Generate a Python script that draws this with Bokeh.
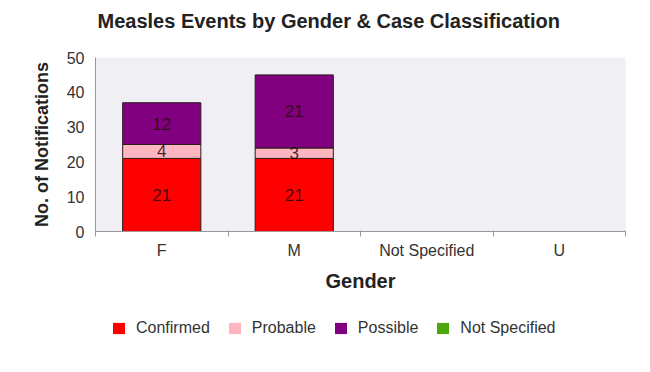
from bokeh.plotting import figure
from bokeh.models import (ColumnDataSource, Range1d, FixedTicker, Legend, LegendItem,
                          Plot, Label, VBar)
from bokeh.layouts import column
from bokeh.embed import file_html
from bokeh.resources import INLINE
from bokeh.core.properties import value

title_text = "Measles Events by Gender & Case Classification"
genders = ["F", "M", "Not Specified", "U"]
classes = ["Confirmed", "Probable", "Possible", "Not Specified"]
confirmed = [21, 21, 0, 0]
probable = [4, 3, 0, 0]
possible = [12, 21, 0, 0]
not_specified = [0, 0, 0, 0]
colors = ["#ff0000", "#ffb6c1", "#800080", "#4ca60c"]
y_ticks = [0, 10, 20, 30, 40, 50]

FONT = "Liberation Sans"
xs = [i + 0.5 for i in range(len(genders))]
keys = ["confirmed", "probable", "possible", "not_specified"]
series = [confirmed, probable, possible, not_specified]
src = ColumnDataSource(dict(x=xs, confirmed=confirmed, probable=probable,
                            possible=possible, not_specified=not_specified))

# ---- title strip ----
ts = Plot(width=634, height=45, x_range=Range1d(0, 530), y_range=Range1d(0, 45),
          min_border_left=95, min_border_right=9, min_border_top=0, min_border_bottom=0,
          title=None, toolbar_location=None, outline_line_color=None, output_backend="svg")
ts.add_layout(Label(x=2, y=25, text=title_text, text_font=FONT, text_font_size="20px",
                    text_font_style="bold", text_color="#222222", text_baseline="middle"))

# ---- main chart ----
p = figure(width=634, height=255, output_backend="svg", toolbar_location=None,
           title_location=None,
           x_range=Range1d(0, len(genders)), y_range=Range1d(0, 50),
           min_border_left=95, min_border_right=9, min_border_top=12, min_border_bottom=69)

renderers = p.vbar_stack(keys, x="x", width=0.59, color=colors, line_color="#2a1a1a",
                         line_width=1, source=src)
renderers[-1].glyph.line_alpha = 0

lx, ly, lt = [], [], []
for i in range(len(genders)):
    cum = 0
    for s in series:
        v = s[i]
        if v > 0:
            lx.append(xs[i]); ly.append(cum + v / 2); lt.append(str(v))
        cum += v
p.text(x=lx, y=ly, text=lt, text_align="center", text_baseline="middle",
       text_font=value(FONT), text_font_size="17px", text_color="#2a0a0a", text_alpha=0.85)

p.background_fill_color = "#f0f0f4"
p.border_fill_color = "white"
p.outline_line_color = None
p.xgrid.grid_line_color = None
p.ygrid.grid_line_color = None

p.xaxis.ticker = FixedTicker(ticks=xs, minor_ticks=list(range(len(genders) + 1)))
p.xaxis.major_label_overrides = {x: g for x, g in zip(xs, genders)}
p.xaxis.major_tick_out = 4
p.xaxis.minor_tick_line_color = "#999999"
p.xaxis.minor_tick_out = 5
p.xaxis.minor_tick_in = 1
p.xaxis.axis_label = "Gender"
p.xaxis.axis_label_text_font = FONT
p.xaxis.axis_label_text_font_size = "20px"
p.xaxis.axis_label_text_font_style = "bold"
p.xaxis.axis_label_text_color = "#222222"
p.xaxis.axis_label_standoff = 8

p.yaxis.ticker = FixedTicker(ticks=y_ticks, minor_ticks=[])
p.yaxis.major_tick_out = 6
p.yaxis.major_tick_in = 0
p.yaxis.axis_label = "No. of Notifications"
p.yaxis.axis_label_text_font = FONT
p.yaxis.axis_label_text_font_size = "18px"
p.yaxis.axis_label_text_font_style = "bold"
p.yaxis.axis_label_text_color = "#222222"
p.yaxis.axis_label_standoff = 12

for ax in (p.xaxis, p.yaxis):
    ax.axis_line_color = "#999999"
    ax.major_tick_line_color = "#999999" if ax is p.yaxis else None
    ax.major_label_text_font = FONT
    ax.major_label_text_font_size = "16px"
    ax.major_label_text_color = "#333333"

# ---- legend strip (swatch renderers hold one zero-size bar, nothing visible) ----
lg = Plot(width=634, height=56, x_range=Range1d(0, 1), y_range=Range1d(0, 1),
          min_border_left=95, min_border_right=9, min_border_top=0, min_border_bottom=0,
          title=None, toolbar_location=None, outline_line_color=None, output_backend="svg")
swatches = []
for c in colors:
    sw_src = ColumnDataSource(dict(x=[0.5], top=[0.0]))
    swatches.append(lg.add_glyph(sw_src, VBar(x="x", top="top", bottom=0, width=0,
                                              fill_color=c, line_color=None)))
legend = Legend(items=[LegendItem(label=c, renderers=[r]) for c, r in zip(classes, swatches)],
                orientation="horizontal", location=(16, 19))
legend.label_text_font = FONT
legend.label_text_font_size = "16px"
legend.label_text_color = "#333333"
legend.label_height = 16
legend.glyph_width = 15
legend.glyph_height = 14
legend.spacing = 17
legend.label_standoff = 10
legend.border_line_color = None
legend.background_fill_alpha = 0
legend.margin = 0
legend.padding = 5
lg.add_layout(legend)

layout = column(ts, p, lg)
open("out.html", "w").write(file_html(layout, INLINE))
